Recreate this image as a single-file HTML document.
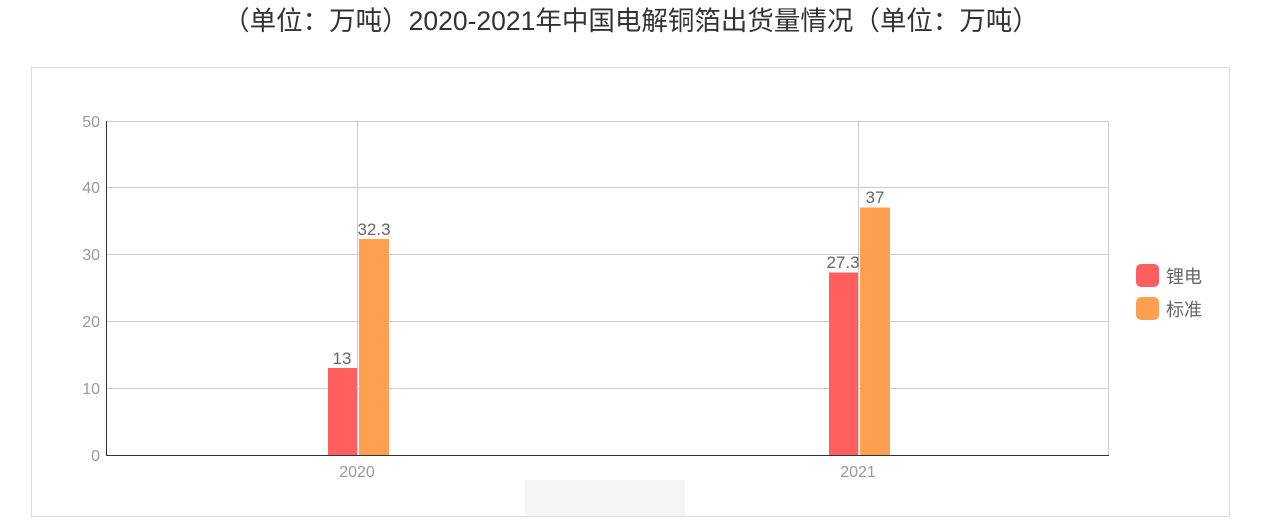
<!DOCTYPE html>
<html><head><meta charset="utf-8"><style>
html,body{margin:0;padding:0;background:#fff;width:1276px;height:524px;overflow:hidden}
svg text{font-family:"Liberation Sans","Noto Sans CJK SC",sans-serif}
</style></head><body>
<svg width="1276" height="524" xmlns="http://www.w3.org/2000/svg">
<text x="631" y="30" text-anchor="middle" font-size="26.5" fill="#333">（单位：万吨）2020-2021年中国电解铜箔出货量情况（单位：万吨）</text>
<rect x="31.5" y="67.5" width="1198" height="449" fill="#fff" stroke="#ddd"/>
<g stroke="#ccc" stroke-width="1">
<line x1="106" y1="121.5" x2="1109" y2="121.5"/>
<line x1="106" y1="187.5" x2="1109" y2="187.5"/>
<line x1="106" y1="254.5" x2="1109" y2="254.5"/>
<line x1="106" y1="321.5" x2="1109" y2="321.5"/>
<line x1="106" y1="388.5" x2="1109" y2="388.5"/>
<line x1="357.5" y1="121" x2="357.5" y2="455"/>
<line x1="858.5" y1="121" x2="858.5" y2="455"/>
<line x1="1108.5" y1="121" x2="1108.5" y2="455"/>
</g>
<line x1="106.5" y1="121" x2="106.5" y2="456" stroke="#333"/>
<line x1="106" y1="455.5" x2="1109" y2="455.5" stroke="#333"/>
<g font-size="16" fill="#999" text-anchor="end">
<text x="100" y="127">50</text><text x="100" y="193">40</text><text x="100" y="260">30</text>
<text x="100" y="327">20</text><text x="100" y="394">10</text><text x="100" y="461">0</text>
</g>
<g font-size="16" fill="#999" text-anchor="middle">
<text x="357" y="477">2020</text><text x="858" y="477">2021</text>
</g>
<rect x="328" y="368" width="29" height="87" fill="#ff5f5f"/>
<rect x="359" y="239" width="30" height="216" fill="#ff9f50"/>
<rect x="829" y="272.5" width="29" height="182.5" fill="#ff5f5f"/>
<rect x="860" y="207.5" width="30" height="247.5" fill="#ff9f50"/>
<g font-size="17" fill="#666" text-anchor="middle">
<text x="342" y="364">13</text><text x="374" y="235">32.3</text>
<text x="843" y="268">27.3</text><text x="875" y="203">37</text>
</g>
<rect x="1136" y="264" width="23" height="23" rx="5" fill="#ff5f5f"/>
<rect x="1136" y="297" width="23" height="23" rx="5" fill="#ff9f50"/>
<g font-size="18" fill="#666">
<text x="1166" y="283">锂电</text><text x="1166" y="316">标准</text>
</g>
<rect x="525" y="480" width="160" height="36" fill="#f3f3f3" opacity="0.8"/>
</svg>
</body></html>
